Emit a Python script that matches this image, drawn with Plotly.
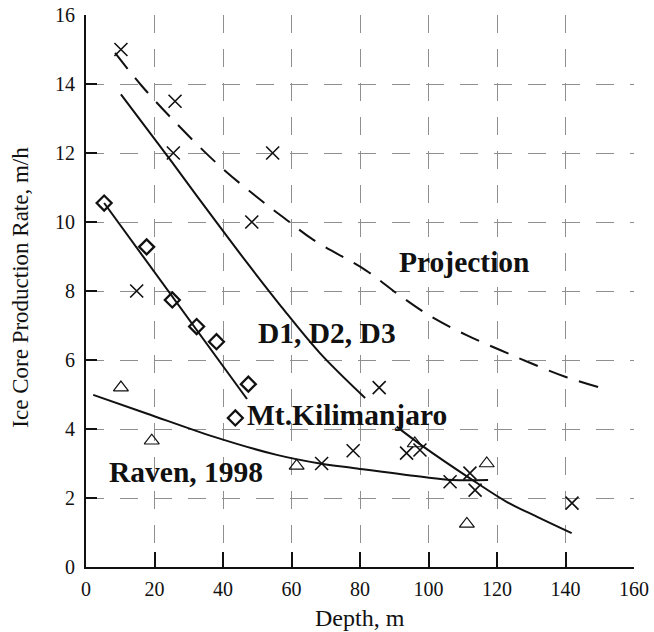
import plotly.graph_objects as go

# ---- data ----
cross_x = [10.2, 26.0, 25.5, 54.5, 48.4, 14.8, 85.6, 78.0, 68.8, 93.6, 97.5, 106.3, 112.1, 113.6, 141.9]
cross_y = [15.0, 13.5, 12.0, 12.0, 10.0, 8.0, 5.2, 3.37, 3.0, 3.3, 3.39, 2.47, 2.72, 2.23, 1.85]

diamond_x = [5.3, 17.7, 25.2, 32.3, 38.1, 47.4, 43.6]
diamond_y = [10.55, 9.28, 7.74, 6.97, 6.53, 5.3, 4.32]

triangle_x = [10.2, 19.2, 61.5, 96.0, 117.0, 111.2]
triangle_y = [5.2, 3.66, 2.93, 3.58, 3.0, 1.25]

proj_x = [8.5, 15.8, 25.5, 38.2, 49.8, 58.6, 66.4, 81.7, 91.2, 100.1, 111.1, 120.9, 129.6, 140.3, 152.5]
proj_y = [14.9, 14.0, 12.95, 11.7, 10.73, 10.06, 9.48, 8.6, 7.9, 7.3, 6.72, 6.29, 5.92, 5.5, 5.13]

d_x = [10.2, 25.0, 36.0, 47.0, 57.0, 68.3, 81.5]
d_y = [13.7, 11.75, 10.27, 8.82, 7.55, 6.2, 4.9]

kili_x = [5.3, 47.0]
kili_y = [10.55, 4.87]

raven_x = [2.1, 17.7, 37.2, 55.7, 68.3, 78.0, 97.5, 107.0, 117.4]
raven_y = [4.99, 4.45, 3.78, 3.25, 3.0, 2.87, 2.62, 2.52, 2.52]

low_x = [90.7, 98.5, 112.1, 122.8, 131.6, 141.8]
low_y = [4.07, 3.49, 2.57, 1.89, 1.46, 0.98]

labels = ["Projection", "D1, D2, D3", "Mt.Kilimanjaro", "Raven, 1998"]
label_x = [110.4, 70.5, 76.1, 29.1]
label_y = [8.85, 6.78, 4.4, 2.74]

x_ticks = [0, 20, 40, 60, 80, 100, 120, 140, 160]
y_ticks = [0, 2, 4, 6, 8, 10, 12, 14, 16]

x_title = "Depth, m"
y_title = "Ice Core Production Rate, m/h"

BLACK = "#111111"
SERIF = "Liberation Serif, Times New Roman, serif"

fig = go.Figure()

line_style = dict(color=BLACK, width=2)
fig.add_trace(go.Scatter(x=proj_x, y=proj_y, mode="lines", line_shape="spline",
                         line=dict(color=BLACK, width=2, dash="20px,12px")))
fig.add_trace(go.Scatter(x=d_x, y=d_y, mode="lines", line_shape="spline", line=line_style))
fig.add_trace(go.Scatter(x=kili_x, y=kili_y, mode="lines", line=line_style))
fig.add_trace(go.Scatter(x=raven_x, y=raven_y, mode="lines", line_shape="spline", line=line_style))
fig.add_trace(go.Scatter(x=low_x, y=low_y, mode="lines", line_shape="spline", line=line_style))

fig.add_trace(go.Scatter(x=cross_x, y=cross_y, mode="markers",
                         marker=dict(symbol="x-thin-open", size=13, color=BLACK,
                                     line=dict(color=BLACK, width=1.6))))
fig.add_trace(go.Scatter(x=diamond_x, y=diamond_y, mode="markers",
                         marker=dict(symbol="diamond-open", size=11.5, color=BLACK,
                                     line=dict(color=BLACK, width=2.3))))
fig.add_trace(go.Scatter(x=triangle_x, y=triangle_y, mode="markers",
                         marker=dict(symbol="triangle-up-open", size=13, color=BLACK,
                                     line=dict(color=BLACK, width=1.2))))

for t, lx, ly in zip(labels, label_x, label_y):
    fig.add_annotation(x=lx, y=ly, text="<b>%s</b>" % t, showarrow=False,
                       xanchor="center", yanchor="middle",
                       font=dict(family=SERIF, size=29.5, color=BLACK))

# axis titles
fig.add_annotation(xref="paper", yref="paper", x=0.5, y=-0.092, text=x_title,
                   showarrow=False, xanchor="center", yanchor="middle",
                   font=dict(family=SERIF, size=24, color=BLACK))
fig.add_annotation(xref="paper", yref="paper", x=-0.1195, y=0.507, text=y_title,
                   showarrow=False, xanchor="center", yanchor="middle", textangle=-90,
                   font=dict(family=SERIF, size=23, color=BLACK))

fig.update_layout(
    width=654, height=632,
    margin=dict(l=86, r=20, t=15, b=65, autoexpand=False),
    paper_bgcolor="white", plot_bgcolor="white",
    showlegend=False, hovermode=False,
    font=dict(family=SERIF, color=BLACK),
)

fig.update_xaxes(
    range=[0, 160], tickvals=x_ticks, ticktext=[str(v) for v in x_ticks],
    automargin=False, ticklabeloverflow="allow",
    showline=True, linecolor=BLACK, linewidth=2,
    ticks="inside", ticklen=15, tickwidth=1.5, tickcolor=BLACK,
    showgrid=True, gridcolor="#8f8f8f", gridwidth=1.3, griddash="18px,16px",
    zeroline=False, tickfont=dict(family=SERIF, size=20, color=BLACK),
    ticklabelstandoff=3,
)
fig.update_yaxes(
    range=[0, 16], tickvals=y_ticks, ticktext=[str(v) for v in y_ticks],
    automargin=False, ticklabeloverflow="allow",
    showline=True, linecolor=BLACK, linewidth=2,
    ticks="inside", ticklen=11, tickwidth=1.5, tickcolor=BLACK,
    showgrid=True, gridcolor="#8f8f8f", gridwidth=1.3, griddash="18px,16px",
    zeroline=False, tickfont=dict(family=SERIF, size=20, color=BLACK),
    ticklabelstandoff=5,
)

# remove the default 8px page margin so the 654x632 figure fills the window
fig.write_html("out.html",
               config={"displayModeBar": False},
               post_script="document.body.style.margin='0';"
                           "document.documentElement.style.overflow='hidden';")
